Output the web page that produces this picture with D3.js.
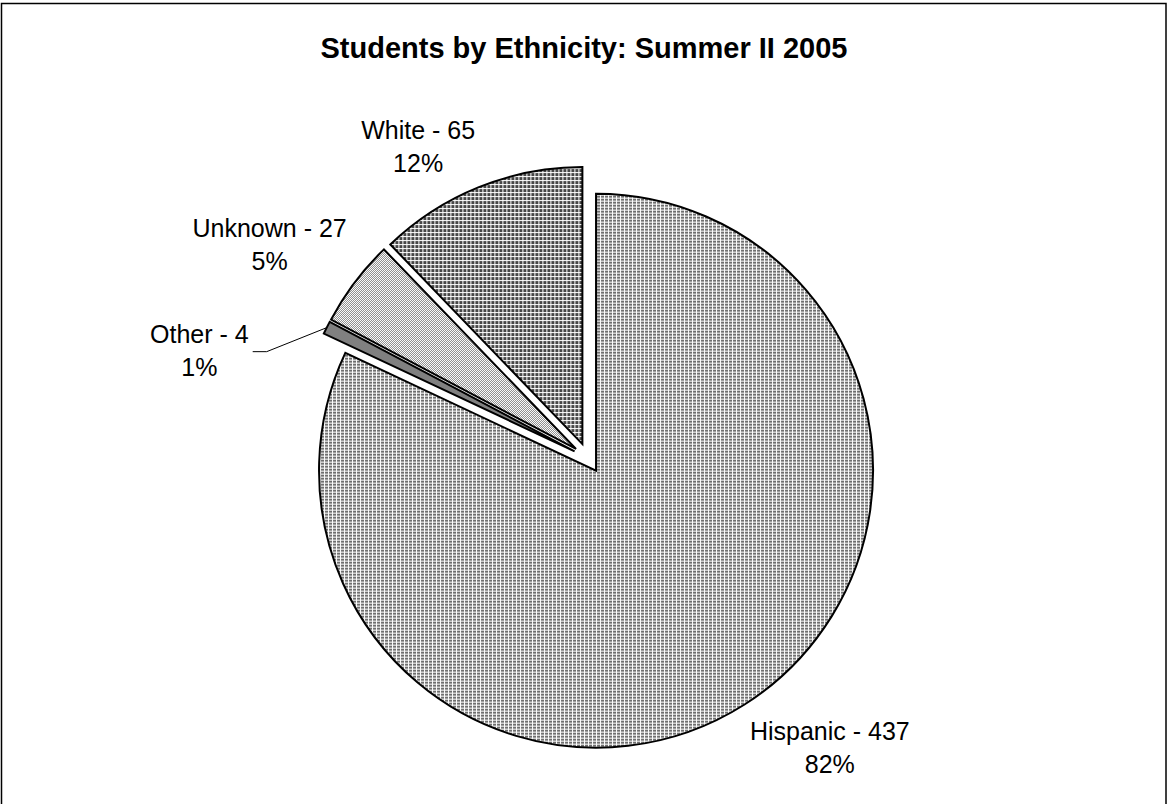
<!DOCTYPE html>
<html>
<head>
<meta charset="utf-8">
<script src="https://cdn.jsdelivr.net/npm/d3@7"></script>
<style>
  html, body { margin: 0; padding: 0; background: #fff; }
  svg { display: block; }
  text { font-family: "Liberation Sans", Arial, sans-serif; fill: #000; }
</style>
</head>
<body>
<div id="chart"></div>
<script>
// ---- data ----
const titleText = "Students by Ethnicity: Summer II 2005";
const categories = ["Hispanic", "Other", "Unknown", "White"];
const counts = [437, 4, 27, 65];
const patternIds = ["pHisp", "pOther", "pUnk", "pWhite"];

// ---- layout ----
const W = 1168, H = 804;
const cx = 588, cy = 458, R = 277, explode = 15, labelPad = 10;
const fontSize = 25, lineGap = 33;

const svg = d3.select("#chart").append("svg")
  .attr("width", W).attr("height", H);

// patterns
const defs = svg.append("defs");
// Hispanic: light grid
const p1 = defs.append("pattern").attr("id", "pHisp").attr("patternUnits", "userSpaceOnUse")
  .attr("width", 4).attr("height", 3);
p1.append("rect").attr("width", 4).attr("height", 3).attr("fill", "#6e6e6e");
p1.append("rect").attr("width", 1).attr("height", 3).attr("fill", "#fff");
p1.append("rect").attr("width", 4).attr("height", 1).attr("fill", "#fff");
// White: darker grid
const p4 = defs.append("pattern").attr("id", "pWhite").attr("patternUnits", "userSpaceOnUse")
  .attr("width", 4).attr("height", 4);
p4.append("rect").attr("width", 4).attr("height", 4).attr("fill", "#474747");
p4.append("rect").attr("width", 1).attr("height", 4).attr("fill", "#fff");
p4.append("rect").attr("width", 4).attr("height", 1).attr("fill", "#fff");
// Unknown: fine light dither
const p3 = defs.append("pattern").attr("id", "pUnk").attr("patternUnits", "userSpaceOnUse")
  .attr("width", 2).attr("height", 2);
p3.append("rect").attr("width", 2).attr("height", 2).attr("fill", "#fff");
p3.append("rect").attr("width", 1).attr("height", 1).attr("fill", "#8c8c8c");
p3.append("rect").attr("x", 1).attr("y", 1).attr("width", 1).attr("height", 1).attr("fill", "#8c8c8c");
// Other: solid dark gray
const p2 = defs.append("pattern").attr("id", "pOther").attr("patternUnits", "userSpaceOnUse")
  .attr("width", 2).attr("height", 2);
p2.append("rect").attr("width", 2).attr("height", 2).attr("fill", "#808080");

// frame
svg.append("rect").attr("x", 1.5).attr("y", 3.5).attr("width", W - 3.5).attr("height", H + 20)
  .attr("fill", "none").attr("stroke", "#000").attr("stroke-width", 1.5);

// title
svg.append("text").attr("x", W / 2).attr("y", 58).attr("text-anchor", "middle")
  .style("font-size", "29px").style("font-weight", "bold").text(titleText);

const total = d3.sum(counts);
const pctFmt = v => Math.round(v / total * 100) + "%";

const pie = d3.pie().sort(null).value(d => d)(counts);
const arc = d3.arc().innerRadius(0).outerRadius(R);

pie.forEach((d, i) => {
  const mid = (d.startAngle + d.endAngle) / 2;
  const dx = Math.sin(mid), dy = -Math.cos(mid);
  const ex = cx + explode * dx, ey = cy + explode * dy;

  svg.append("path")
    .attr("transform", `translate(${ex},${ey})`)
    .attr("d", arc(d))
    .attr("fill", `url(#${patternIds[i]})`)
    .attr("stroke", "#000").attr("stroke-width", 2).attr("stroke-linejoin", "miter");

  // label
  const g = svg.append("g");
  const t = g.append("text").attr("text-anchor", "middle").style("font-size", fontSize + "px");
  const t1 = t.append("tspan").attr("x", 0).attr("y", 0).text(`${categories[i]} - ${counts[i]}`);
  const t2 = t.append("tspan").attr("x", 0).attr("y", lineGap).text(pctFmt(counts[i]));
  const w = Math.max(t1.node().getComputedTextLength(), t2.node().getComputedTextLength());
  const h = 66;

  const frac = d.value / total;
  let left, top;
  if (frac < 0.02) {
    // leader line label
    const px = ex + R * dx, py = ey + R * dy;
    const right = px - 78;
    const midY = py + 21;
    left = right - w; top = midY - h / 2;
    svg.append("polyline")
      .attr("points", [[px, py], [px - 60, midY + 3], [right + 4, midY + 3]].map(p => p.join(",")).join(" "))
      .attr("fill", "none").attr("stroke", "#000").attr("stroke-width", 1);
  } else {
    const ax = ex + (R + labelPad) * dx, ay = ey + (R + labelPad) * dy;
    left = dx >= 0 ? ax : ax - w;
    top = dy >= 0 ? ay : ay - h;
  }
  g.attr("transform", `translate(${left + w / 2},${top + 27})`);
});
</script>
</body>
</html>
